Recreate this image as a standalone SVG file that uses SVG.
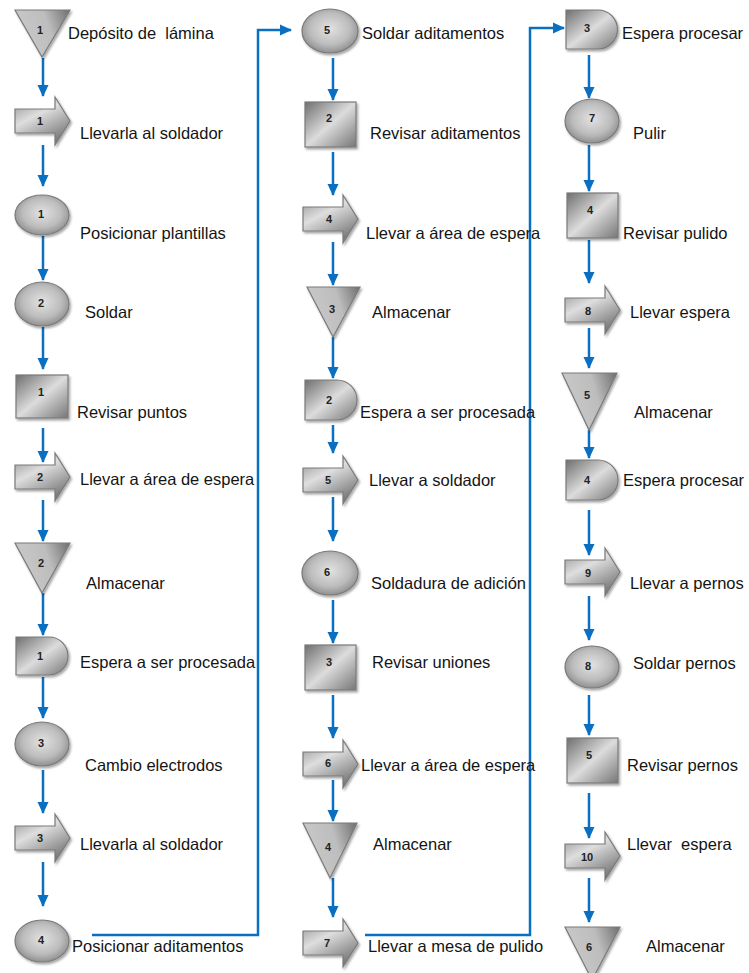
<svg xmlns="http://www.w3.org/2000/svg" width="749" height="973" viewBox="0 0 749 973">
  <defs>
    <linearGradient id="gDiag" x1="0" y1="0" x2="1" y2="1">
      <stop offset="0" stop-color="#6f6f6f"/>
      <stop offset="0.5" stop-color="#dcdcdc"/>
      <stop offset="1" stop-color="#767676"/>
    </linearGradient>
    <linearGradient id="gArrow" x1="0" y1="0" x2="0.6" y2="1">
      <stop offset="0" stop-color="#8c8c8c"/>
      <stop offset="0.45" stop-color="#dedede"/>
      <stop offset="1" stop-color="#7a7a7a"/>
    </linearGradient>
    <linearGradient id="gTri" x1="0" y1="0.3" x2="1" y2="0">
      <stop offset="0" stop-color="#c9c9c9"/>
      <stop offset="0.55" stop-color="#bdbdbd"/>
      <stop offset="1" stop-color="#6e6e6e"/>
    </linearGradient>
    <radialGradient id="gEll" cx="0.5" cy="0.45" r="0.6">
      <stop offset="0" stop-color="#e2e2e2"/>
      <stop offset="0.6" stop-color="#bcbcbc"/>
      <stop offset="1" stop-color="#858585"/>
    </radialGradient>
    <filter id="shadow" x="-20%" y="-20%" width="150%" height="150%">
      <feDropShadow dx="1.5" dy="2" stdDeviation="1.2" flood-color="#000" flood-opacity="0.35"/>
    </filter>
    <marker id="head" markerUnits="userSpaceOnUse" markerWidth="12" markerHeight="12" viewBox="0 0 12 12" refX="11" refY="6" orient="auto">
      <path d="M0,0.5 L12,6 L0,11.5 Z" fill="#0b6fc1"/>
    </marker>
    <style>
      .sq { fill: url(#gDiag); stroke: #7a7a7a; stroke-width: 1.2; filter: url(#shadow); }
      .dl { fill: url(#gDiag); stroke: #7a7a7a; stroke-width: 1.2; filter: url(#shadow); }
      .ar { fill: url(#gArrow); stroke: #7a7a7a; stroke-width: 1.2; filter: url(#shadow); }
      .tr { fill: url(#gTri); stroke: #7a7a7a; stroke-width: 1.2; filter: url(#shadow); }
      .el { fill: url(#gEll); stroke: #7a7a7a; stroke-width: 1.2; filter: url(#shadow); }
      .num { font-family: "Liberation Sans", Arial, sans-serif; font-size: 11px; font-weight: bold; fill: #222; text-anchor: middle; }
      .lbl { font-family: "Liberation Sans", Arial, sans-serif; font-size: 16.5px; fill: #141414; white-space: pre; }
      .cn { fill: none; stroke: #0b6fc1; stroke-width: 2.5; marker-end: url(#head); }
    </style>
  </defs>
  <rect width="749" height="973" fill="#ffffff"/>

  <!-- flow connectors -->
  <g id="connectors">
    <!-- column 1 -->
    <path class="cn" d="M43,58 V96"/>
    <path class="cn" d="M43,145 V186"/>
    <path class="cn" d="M43,236 V280"/>
    <path class="cn" d="M43,327 V369"/>
    <path class="cn" d="M43,428 V462"/>
    <path class="cn" d="M43,500 V541"/>
    <path class="cn" d="M43,593 V635"/>
    <path class="cn" d="M43,677 V718"/>
    <path class="cn" d="M43,770 V813"/>
    <path class="cn" d="M43,862 V906"/>
    <!-- column 1 to column 2 -->
    <path class="cn" d="M92,935 H258 V30 H291"/>
    <!-- column 2 -->
    <path class="cn" d="M333,58 V100"/>
    <path class="cn" d="M333,152 V195"/>
    <path class="cn" d="M333,242 V285"/>
    <path class="cn" d="M333,337 V378"/>
    <path class="cn" d="M333,425 V453"/>
    <path class="cn" d="M333,497 V541"/>
    <path class="cn" d="M333,600 V643"/>
    <path class="cn" d="M333,695 V738"/>
    <path class="cn" d="M333,780 V821"/>
    <path class="cn" d="M333,878 V917"/>
    <!-- column 2 to column 3 -->
    <path class="cn" d="M365,935 H530 V28 H564"/>
    <!-- column 3 -->
    <path class="cn" d="M589,55 V98"/>
    <path class="cn" d="M589,145 V191"/>
    <path class="cn" d="M589,240 V283"/>
    <path class="cn" d="M589,328 V368"/>
    <path class="cn" d="M589,430 V458"/>
    <path class="cn" d="M589,510 V555"/>
    <path class="cn" d="M589,596 V640"/>
    <path class="cn" d="M589,695 V735"/>
    <path class="cn" d="M589,793 V838"/>
    <path class="cn" d="M589,878 V922"/>
  </g>

  <!-- column 1 -->
  <g id="n-alm1">
    <path class="tr" d="M15,10 H70 L42,57 Z"/>
    <text class="num" x="40" y="34">1</text>
    <text class="lbl" x="68" y="39">Depósito de  lámina</text>
  </g>
  <g id="n-tr1">
    <path class="ar" d="M15,109 H55 V97 L70,121 L55,145 V133 H15 Z"/>
    <text class="num" x="40" y="125">1</text>
    <text class="lbl" x="80" y="139">Llevarla al soldador</text>
  </g>
  <g id="n-op1">
    <ellipse class="el" cx="42" cy="215" rx="27" ry="20"/>
    <text class="num" x="41" y="218">1</text>
    <text class="lbl" x="80" y="239">Posicionar plantillas</text>
  </g>
  <g id="n-op2">
    <ellipse class="el" cx="42" cy="304" rx="27" ry="22"/>
    <text class="num" x="41" y="307">2</text>
    <text class="lbl" x="85" y="318">Soldar</text>
  </g>
  <g id="n-insp1">
    <rect class="sq" x="16" y="375" width="52" height="43"/>
    <text class="num" x="41" y="396">1</text>
    <text class="lbl" x="77" y="418">Revisar puntos</text>
  </g>
  <g id="n-tr2">
    <path class="ar" d="M15,465 H55 V453 L70,477 L55,501 V489 H15 Z"/>
    <text class="num" x="40" y="481">2</text>
    <text class="lbl" x="80" y="485">Llevar a área de espera</text>
  </g>
  <g id="n-alm2">
    <path class="tr" d="M15,543 H70 L42,593 Z"/>
    <text class="num" x="41" y="567">2</text>
    <text class="lbl" x="86" y="589">Almacenar</text>
  </g>
  <g id="n-esp1">
    <path class="dl" d="M16,637 H49 A19,19 0 0 1 49,675 H16 Z"/>
    <text class="num" x="40" y="660">1</text>
    <text class="lbl" x="80" y="668">Espera a ser procesada</text>
  </g>
  <g id="n-op3">
    <ellipse class="el" cx="42" cy="744" rx="27" ry="22"/>
    <text class="num" x="41" y="747">3</text>
    <text class="lbl" x="85" y="771">Cambio electrodos</text>
  </g>
  <g id="n-tr3">
    <path class="ar" d="M15,826 H55 V814 L70,838 L55,862 V850 H15 Z"/>
    <text class="num" x="40" y="842">3</text>
    <text class="lbl" x="80" y="850">Llevarla al soldador</text>
  </g>
  <g id="n-op4">
    <ellipse class="el" cx="42" cy="941" rx="27" ry="21"/>
    <text class="num" x="41" y="944">4</text>
    <text class="lbl" x="72" y="952">Posicionar aditamentos</text>
  </g>

  <!-- column 2 -->
  <g id="n-op5">
    <ellipse class="el" cx="330" cy="31" rx="28" ry="22"/>
    <text class="num" x="327" y="34">5</text>
    <text class="lbl" x="362" y="39">Soldar aditamentos</text>
  </g>
  <g id="n-insp2">
    <rect class="sq" x="305" y="102" width="51" height="45"/>
    <text class="num" x="329" y="122">2</text>
    <text class="lbl" x="370" y="139">Revisar aditamentos</text>
  </g>
  <g id="n-tr4">
    <path class="ar" d="M303,207 H343 V195 L358,219 L343,243 V231 H303 Z"/>
    <text class="num" x="329" y="223">4</text>
    <text class="lbl" x="366" y="239">Llevar a área de espera</text>
  </g>
  <g id="n-alm3">
    <path class="tr" d="M307,287 H360 L333,337 Z"/>
    <text class="num" x="332" y="313">3</text>
    <text class="lbl" x="372" y="318">Almacenar</text>
  </g>
  <g id="n-esp2">
    <path class="dl" d="M305,380 H337 A20,20 0 0 1 337,420 H305 Z"/>
    <text class="num" x="329" y="404">2</text>
    <text class="lbl" x="360" y="418">Espera a ser procesada</text>
  </g>
  <g id="n-tr5">
    <path class="ar" d="M303,468 H343 V456 L358,480 L343,504 V492 H303 Z"/>
    <text class="num" x="328" y="484">5</text>
    <text class="lbl" x="369" y="486">Llevar a soldador</text>
  </g>
  <g id="n-op6">
    <ellipse class="el" cx="330" cy="573" rx="28" ry="22"/>
    <text class="num" x="327" y="576">6</text>
    <text class="lbl" x="371" y="589">Soldadura de adición</text>
  </g>
  <g id="n-insp3">
    <rect class="sq" x="305" y="645" width="51" height="45"/>
    <text class="num" x="329" y="666">3</text>
    <text class="lbl" x="372" y="668">Revisar uniones</text>
  </g>
  <g id="n-tr6">
    <path class="ar" d="M303,752 H343 V740 L358,764 L343,788 V776 H303 Z"/>
    <text class="num" x="328" y="767">6</text>
    <text class="lbl" x="361" y="771">Llevar a área de espera</text>
  </g>
  <g id="n-alm4">
    <path class="tr" d="M303,823 H357 L330,878 Z"/>
    <text class="num" x="328" y="851">4</text>
    <text class="lbl" x="373" y="850">Almacenar</text>
  </g>
  <g id="n-tr7">
    <path class="ar" d="M303,931 H343 V919 L358,943 L343,967 V955 H303 Z"/>
    <text class="num" x="327" y="947">7</text>
    <text class="lbl" x="368" y="952">Llevar a mesa de pulido</text>
  </g>

  <!-- column 3 -->
  <g id="n-esp3">
    <path class="dl" d="M566,10 H598 A19.5,19.5 0 0 1 598,49 H566 Z"/>
    <text class="num" x="587" y="32">3</text>
    <text class="lbl" x="622" y="39">Espera procesar</text>
  </g>
  <g id="n-op7">
    <ellipse class="el" cx="592" cy="121" rx="27" ry="22"/>
    <text class="num" x="592" y="122">7</text>
    <text class="lbl" x="633" y="139">Pulir</text>
  </g>
  <g id="n-insp4">
    <rect class="sq" x="567" y="193" width="51" height="45"/>
    <text class="num" x="590" y="214">4</text>
    <text class="lbl" x="623" y="239">Revisar pulido</text>
  </g>
  <g id="n-tr8">
    <path class="ar" d="M565,298 H605 V286 L620,310 L605,334 V322 H565 Z"/>
    <text class="num" x="588" y="315">8</text>
    <text class="lbl" x="630" y="318">Llevar espera</text>
  </g>
  <g id="n-alm5">
    <path class="tr" d="M562,373 H617 L589,430 Z"/>
    <text class="num" x="587" y="399">5</text>
    <text class="lbl" x="634" y="418">Almacenar</text>
  </g>
  <g id="n-esp4">
    <path class="dl" d="M566,460 H598 A20,20 0 0 1 598,500 H566 Z"/>
    <text class="num" x="587" y="484">4</text>
    <text class="lbl" x="623" y="486">Espera procesar</text>
  </g>
  <g id="n-tr9">
    <path class="ar" d="M565,560 H605 V548 L620,572 L605,596 V584 H565 Z"/>
    <text class="num" x="588" y="577">9</text>
    <text class="lbl" x="630" y="589">Llevar a pernos</text>
  </g>
  <g id="n-op8">
    <ellipse class="el" cx="592" cy="667" rx="27" ry="21"/>
    <text class="num" x="588" y="670">8</text>
    <text class="lbl" x="633" y="669">Soldar pernos</text>
  </g>
  <g id="n-insp5">
    <rect class="sq" x="567" y="738" width="51" height="45"/>
    <text class="num" x="589" y="759">5</text>
    <text class="lbl" x="627" y="771">Revisar pernos</text>
  </g>
  <g id="n-tr10">
    <path class="ar" d="M565,844 H605 V832 L620,856 L605,880 V868 H565 Z"/>
    <text class="num" x="587" y="861">10</text>
    <text class="lbl" x="627" y="850">Llevar  espera</text>
  </g>
  <g id="n-alm6">
    <path class="tr" d="M565,927 H620 L592,980 Z"/>
    <text class="num" x="589" y="951">6</text>
    <text class="lbl" x="646" y="952">Almacenar</text>
  </g>
</svg>
